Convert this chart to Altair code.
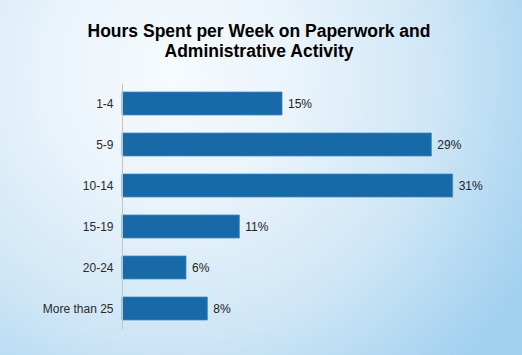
import altair as alt
import pandas as pd

categories = ["1-4", "5-9", "10-14", "15-19", "20-24", "More than 25"]
values = [15, 29, 31, 11, 6, 8]
title_lines = ["Hours Spent per Week on Paperwork and", "Administrative Activity"]

df = pd.DataFrame({
    "cat": categories,
    "value": values,
    "label": [f"{v}%" for v in values],
})

W, H = 400, 246
PAD_L, PAD_T = 122, 83
TOTAL_W, TOTAL_H = 522, 355

bg_gradient = {
    "gradient": "radial",
    "x1": 0.33, "y1": 0.3, "r1": 0.0,
    "x2": 0.33, "y2": 0.3, "r2": 0.78,
    "stops": [
        {"offset": 0.0, "color": "#f6fbfe"},
        {"offset": 0.3, "color": "#eaf4fb"},
        {"offset": 0.65, "color": "#cfe6f6"},
        {"offset": 1.0, "color": "#a2d1ef"},
    ],
}

one = pd.DataFrame({"k": [0]})

bg = alt.Chart(one).mark_rect(fill=bg_gradient, clip=False).encode(
    x=alt.value(-PAD_L), x2=alt.value(TOTAL_W - PAD_L),
    y=alt.value(-PAD_T), y2=alt.value(TOTAL_H - PAD_T),
)

title = alt.Chart(one).mark_text(
    font="Liberation Sans", fontSize=17.5, fontWeight="bold", color="#000000",
    align="center", baseline="alphabetic", lineHeight=20,
).encode(
    x=alt.value(259 - PAD_L), y=alt.value(36.5 - PAD_T),
    text=alt.value(title_lines),
)

y_enc = alt.Y(
    "cat:N", sort=categories,
    scale=alt.Scale(paddingInner=0.44, paddingOuter=0.22),
    axis=alt.Axis(
        title=None, ticks=False, domainColor="#c4c4c4", domainWidth=1,
        labelFont="Liberation Sans", labelFontSize=12, labelColor="#2a2a2a",
        labelPadding=9, grid=False, zindex=1,
    ),
)
x_enc = alt.X("value:Q", scale=alt.Scale(domain=[0, 37.5], nice=False), axis=None)

bars = alt.Chart(df).mark_bar(color="#1769a7", stroke="#3f88c2", strokeWidth=0.8).encode(
    y=y_enc, x=x_enc,
)

labels = alt.Chart(df).mark_text(
    align="left", baseline="middle", dx=6, font="Liberation Sans",
    fontSize=12, color="#222222",
).encode(y=y_enc, x=x_enc, text="label:N")

chart = alt.layer(bg, title, bars, labels).properties(
    width=W, height=H,
    autosize=alt.AutoSizeParams(type="none"),
    padding={"left": PAD_L, "top": PAD_T, "right": TOTAL_W - PAD_L - W, "bottom": TOTAL_H - PAD_T - H},
).configure_view(stroke=None).configure(background="#cfe6f6")

chart.save("out.html", embed_options={"renderer": "svg", "actions": False})
